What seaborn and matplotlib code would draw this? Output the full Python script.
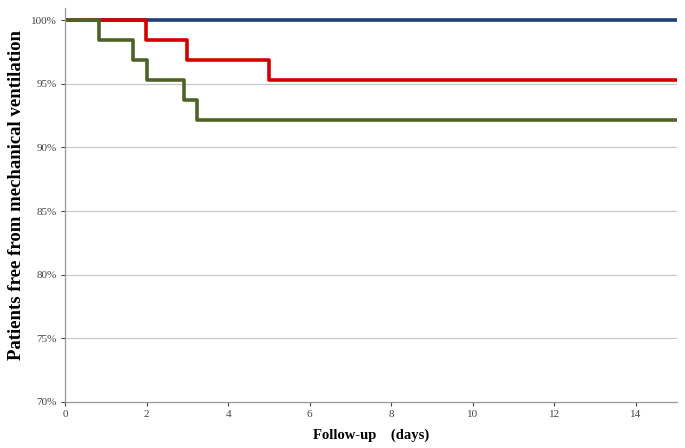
import numpy as np
import pandas as pd
import seaborn as sns
from matplotlib import pyplot as plt
from matplotlib.ticker import PercentFormatter

# step times (days) and survival (%)
blue_t = [0, 15]
blue_s = [100.0, 100.0]
red_t = [0, 1.98, 3.0, 5.0, 15]
red_s = [100.0, 98.44, 96.88, 95.31, 95.31]
green_t = [0, 0.82, 1.66, 2.0, 2.91, 3.23, 15]
green_s = [100.0, 98.44, 96.88, 95.31, 93.75, 92.19, 92.19]

sns.set_style("white")
plt.rcParams["font.family"] = ["Liberation Serif", "DejaVu Serif"]

f = plt.figure(figsize=(6.85, 4.48), dpi=100)
ax = f.add_axes([0.095, 0.103, 0.893, 0.879])

for y in np.arange(75, 101, 5):
    ax.axhline(y, color="#c8c8c8", lw=0.9, zorder=0)

for t, s, c in [(blue_t, blue_s, "#1f3f77"),
                (red_t, red_s, "#d40000"),
                (green_t, green_s, "#4f6228")]:
    df = pd.DataFrame({"t": t, "s": s})
    sns.lineplot(data=df, x="t", y="s", ax=ax, color=c, lw=2.6,
                 drawstyle="steps-post", estimator=None, sort=False)

ax.set_xlim(0, 15)
ax.set_ylim(70, 100.95)
ax.set_xticks(range(0, 15, 2))
ax.set_yticks(range(70, 101, 5))
ax.yaxis.set_major_formatter(PercentFormatter(decimals=0))
ax.tick_params(axis="both", labelsize=8, colors="#444444", length=3,
               width=0.8, direction="out", pad=3)
ax.tick_params(axis="x", bottom=True)
ax.tick_params(axis="y", left=True)

for sp in ["top", "right"]:
    ax.spines[sp].set_visible(False)
for sp in ["left", "bottom"]:
    ax.spines[sp].set_color("#999999")
    ax.spines[sp].set_linewidth(0.9)

ax.set_xlabel("Follow-up    (days)", fontsize=10.5, fontweight="bold",
              color="black", labelpad=7)
ax.set_ylabel("Patients free from mechanical ventilation", fontsize=13.5,
              fontweight="bold", color="black")
ax.yaxis.set_label_coords(-0.066, 0.525)

f.savefig("out.png", dpi=100)
